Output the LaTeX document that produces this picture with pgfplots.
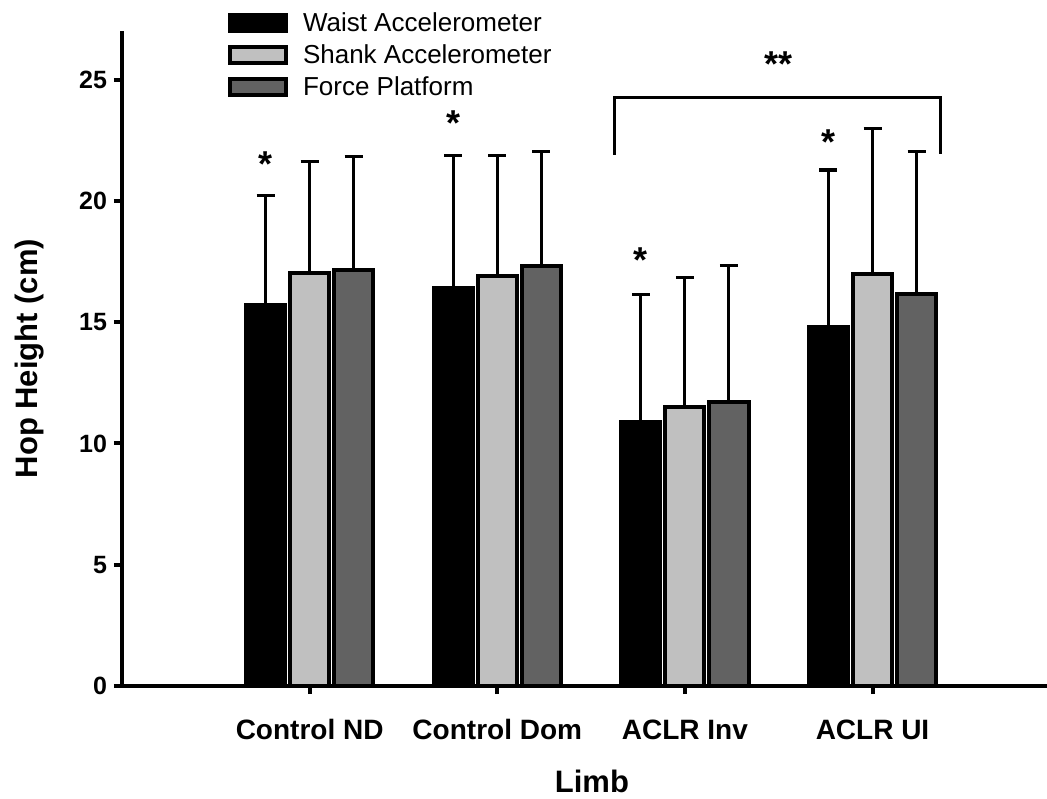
\documentclass[border=0pt]{standalone}
\usepackage{pgfplots}
\usepackage{pgfplotstable}
\pgfplotsset{compat=1.18}
\usepackage{fontspec}
\setmainfont{Liberation Sans}

\definecolor{shankgray}{HTML}{C0C0C0}
\definecolor{forcegray}{HTML}{626262}

% mean hop height and +1 SD per limb (x = limb index)
%   0 Control ND, 1 Control Dom, 2 ACLR Inv, 3 ACLR UI
\pgfplotstableread{
x  mean   sd
0  15.69  4.53
1  16.41  5.45
2  10.89  5.24
3  14.80  6.48
}\waist
\pgfplotstableread{
x  mean   sd
0  17.02  4.62
1  16.90  4.96
2  11.50  5.36
3  17.00  5.98
}\shank
\pgfplotstableread{
x  mean   sd
0  17.16  4.67
1  17.31  4.74
2  11.70  5.65
3  16.17  5.88
}\force

\begin{document}
\begin{tikzpicture}
\useasboundingbox (-61pt,-56pt) rectangle (462.5pt,343pt);
\begin{axis}[
  at={(0,0)}, anchor=south west,
  scale only axis,
  width=462.5pt, height=327.4pt,
  xmin=-1.0, xmax=3.93,
  ymin=0, ymax=27,
  axis x line=bottom, axis y line=left,
  axis line style={-, line width=2.3pt},
  tick align=outside,
  major tick length=4pt,
  tick style={line width=2pt, black},
  xtick={0,1,2,3},
  xticklabels={Control ND, Control Dom, ACLR Inv, ACLR UI},
  ytick={0,5,10,15,20,25},
  /pgf/number format/assume math mode=true,
  yticklabel style={font=\fontsize{12.5}{14}\selectfont\bfseries},
  xticklabel style={font=\fontsize{14}{16}\selectfont\bfseries,
    anchor=north, inner sep=0pt, text height=10pt, text depth=0pt, yshift=-12.5pt},
  xlabel={Limb},
  ylabel={Hop Height (cm)},
  xlabel style={font=\fontsize{15.5}{18}\selectfont\bfseries, inner sep=0pt,
    at={(axis description cs:0.508,-0.146)}, anchor=center},
  ylabel style={font=\fontsize{15.5}{18}\selectfont\bfseries,
    at={(axis description cs:-0.0995,0.5)}, anchor=center, rotate=0},
  legend style={draw=none, fill=none, inner sep=0pt, outer sep=0pt,
    at={(axis description cs:0.1146,1.0331)}, anchor=north west,
    font=\fontsize{13}{15}\selectfont,
    nodes={inner sep=0pt, text height=11pt, text depth=2pt},
    row sep=3pt, column sep=7.5pt},
  legend cell align=left,
  legend image code/.code={\draw[#1, line width=2pt] (0pt,-4pt) rectangle (28pt,4pt);},
  error bars/y dir=plus,
  error bars/y explicit,
  error bars/error bar style={line width=1.5pt, black},
  error bars/error mark options={rotate=90, mark size=4.5pt, line width=1.6pt, black},
  every axis plot/.append style={ybar, bar width=0.208, bar shift=0, draw=black, line width=2pt},
]
% each instrument sits at its own offset within the limb group
\addplot[fill=black] table[x expr=\thisrow{x}-0.235, y=mean, y error=sd] {\waist};
\addplot[fill=shankgray] table[x expr=\thisrow{x}, y=mean, y error=sd] {\shank};
\addplot[fill=forcegray] table[x expr=\thisrow{x}+0.235, y=mean, y error=sd] {\force};
\legend{Waist Accelerometer, Shank Accelerometer, Force Platform}

% significance markers
\begin{scope}[every node/.style={font=\fontsize{18}{20}\selectfont\bfseries, anchor=base, inner sep=0pt}]
  \node at (axis cs:-0.235,21.0) {*};
  \node at (axis cs:0.765,22.68) {*};
  \node at (axis cs:1.765,17.05) {*};
  \node at (axis cs:2.765,21.92) {*};
  \node at (axis cs:2.5,25.15) {**};
\end{scope}
\draw[line width=1.6pt] (axis cs:1.623,21.9) |- (axis cs:3.363,24.27) -- (axis cs:3.363,21.94);
\end{axis}
\end{tikzpicture}
\end{document}
